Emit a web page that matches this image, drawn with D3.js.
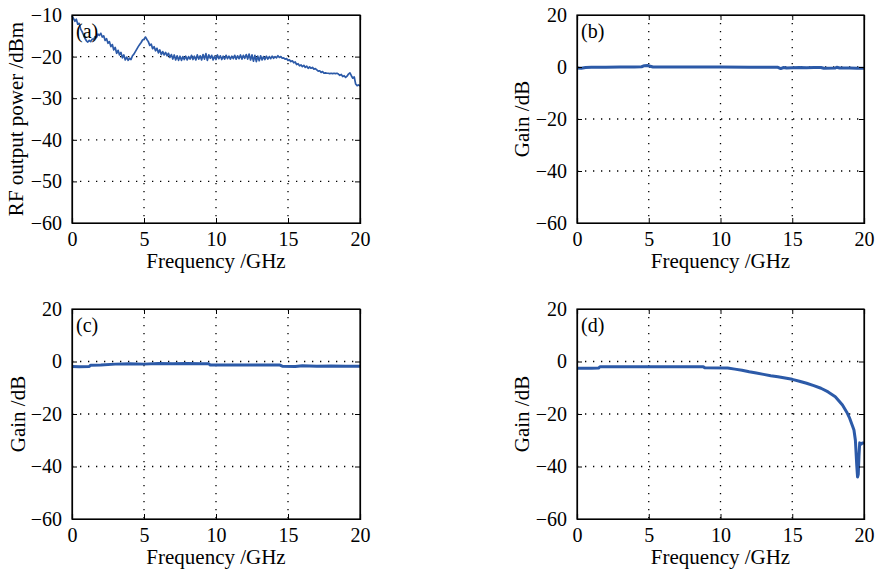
<!DOCTYPE html>
<html>
<head>
<meta charset="utf-8">
<script src="https://cdn.jsdelivr.net/npm/d3@7"></script>
<style>
  body { margin: 0; background: #fff; }
  text { font-family: "Liberation Serif", "DejaVu Serif", serif; fill: #000; }
</style>
</head>
<body>
<script>
// panel (a): RF output power vs frequency, [GHz, dBm]
var powerA = [
  [0.0,-10.2],[0.1,-10.8],[0.2,-11.5],[0.3,-11.0],[0.4,-12.2],[0.5,-12.0],[0.6,-13.4],[0.7,-14.0],[0.8,-14.8],[0.9,-15.6],
  [1.0,-16.2],[1.1,-16.5],[1.2,-16.1],[1.3,-16.4],[1.4,-15.8],[1.5,-15.9],[1.6,-15.2],[1.7,-15.4],[1.8,-14.6],[1.9,-14.9],
  [2.0,-14.4],[2.1,-15.3],[2.2,-15.0],[2.3,-16.1],[2.4,-15.7],[2.5,-16.8],[2.6,-16.4],[2.7,-17.6],[2.8,-17.1],[2.9,-18.4],
  [3.0,-17.8],[3.1,-19.2],[3.2,-18.5],[3.3,-19.6],[3.4,-19.0],[3.5,-20.3],[3.6,-19.6],[3.7,-20.8],[3.8,-20.1],[3.9,-20.9],
  [4.0,-20.4],[4.1,-20.7],[4.2,-19.8],[4.3,-19.4],[4.4,-18.8],[4.5,-18.2],[4.6,-17.6],[4.7,-17.1],[4.8,-16.6],[4.9,-16.0],
  [5.0,-15.8],[5.1,-15.3],[5.2,-15.9],[5.3,-16.4],[5.4,-17.3],[5.5,-17.0],[5.6,-18.1],[5.7,-17.6],[5.8,-18.6],[5.9,-18.0],
  [6.0,-19.1],[6.1,-18.4],[6.2,-19.5],[6.3,-18.8],[6.4,-19.6],[6.5,-19.0],[6.6,-19.8],[6.7,-19.2],[6.8,-20.2],[6.9,-19.5],
  [7.0,-20.6],[7.1,-19.6],[7.2,-20.8],[7.3,-19.8],[7.4,-20.9],[7.5,-19.9],[7.6,-20.9],[7.7,-20.0],[7.8,-20.7],[7.9,-19.9],
  [8.0,-20.8],[8.1,-20.0],[8.2,-20.6],[8.3,-19.7],[8.4,-20.7],[8.5,-19.9],[8.6,-20.8],[8.7,-19.6],[8.8,-20.6],[8.9,-19.8],
  [9.0,-20.8],[9.1,-19.5],[9.2,-20.6],[9.3,-19.3],[9.4,-20.9],[9.5,-19.6],[9.6,-20.4],[9.7,-19.7],[9.8,-20.8],[9.9,-19.9],
  [10.0,-20.7],[10.1,-19.6],[10.2,-20.5],[10.3,-19.8],[10.4,-20.7],[10.5,-19.9],[10.6,-20.6],[10.7,-19.7],[10.8,-20.5],[10.9,-19.9],
  [11.0,-20.6],[11.1,-19.9],[11.2,-20.5],[11.3,-19.7],[11.4,-20.6],[11.5,-19.8],[11.6,-20.5],[11.7,-19.6],[11.8,-20.6],[11.9,-19.7],
  [12.0,-20.4],[12.1,-19.5],[12.2,-20.6],[12.3,-19.4],[12.4,-20.8],[12.5,-19.6],[12.6,-21.1],[12.7,-19.7],[12.8,-21.2],[12.9,-19.9],
  [13.0,-21.0],[13.1,-19.8],[13.2,-20.8],[13.3,-20.0],[13.4,-20.7],[13.5,-19.9],[13.6,-20.6],[13.7,-20.0],[13.8,-20.5],[13.9,-19.9],
  [14.0,-20.4],[14.1,-20.0],[14.2,-20.3],[14.3,-19.8],[14.4,-20.2],[14.5,-20.0],[14.6,-20.4],[14.7,-20.3],[14.8,-20.6],[14.9,-20.5],
  [15.0,-20.9],[15.1,-20.8],[15.2,-21.2],[15.3,-21.0],[15.4,-21.5],[15.5,-21.3],[15.6,-21.9],[15.7,-21.7],[15.8,-22.2],[15.9,-22.0],
  [16.0,-22.4],[16.1,-22.1],[16.2,-22.6],[16.3,-22.3],[16.4,-22.8],[16.5,-22.5],[16.6,-22.8],[16.7,-22.6],[16.8,-23.0],[16.9,-22.9],
  [17.0,-23.2],[17.1,-23.5],[17.2,-23.4],[17.3,-23.8],[17.4,-23.6],[17.5,-24.0],[17.6,-23.9],[17.7,-24.0],[17.8,-24.0],[17.9,-24.1],
  [18.0,-24.0],[18.1,-24.1],[18.2,-24.0],[18.3,-24.1],[18.4,-24.0],[18.5,-24.2],[18.6,-24.5],[18.7,-24.3],[18.8,-24.8],[18.9,-24.6],
  [19.0,-25.0],[19.1,-24.7],[19.2,-24.2],[19.3,-23.9],[19.4,-24.6],[19.5,-25.2],[19.6,-24.9],[19.7,-26.6],[19.8,-27.0],[19.9,-26.8],
  [20.0,-27.1]
];

// panel (b): gain, [GHz, dB]
var gainB = [
  [0,-0.4],[0.3,-0.5],[0.6,-0.2],[1,-0.1],[2,-0.1],[3,0],[4,0],[4.5,0.1],[4.7,0.5],[4.9,0.6],[5.1,0.3],[5.3,0],
  [7,0],[10,0],[12,-0.05],[14,-0.1],[14.2,-0.6],[14.4,-0.2],[14.6,-0.4],[15,-0.3],[15.5,-0.2],[16,-0.3],[16.5,-0.2],
  [17,-0.2],[17.2,-0.5],[18,-0.4],[18.1,-0.1],[18.3,-0.4],[19,-0.4],[19.5,-0.5],[20,-0.5]
];

// panel (c)
var gainC = [
  [0,-1.9],[0.5,-2.0],[1.2,-1.9],[1.3,-1.4],[2,-1.3],[3,-1.0],[4,-0.9],[5,-1.0],[6,-0.8],[7,-0.9],[8,-0.8],
  [9,-0.9],[9.5,-0.9],[9.6,-1.3],[12,-1.3],[14.4,-1.3],[14.6,-1.8],[15.5,-1.9],[16,-1.6],[17,-1.8],[18,-1.7],
  [19,-1.8],[20,-1.8]
];

// panel (d)
var gainD = [
  [0,-2.6],[1,-2.6],[1.5,-2.5],[1.6,-2.0],[5,-2.0],[8.8,-2.0],[8.9,-2.4],[10.5,-2.5],[11,-2.9],[11.5,-3.3],
  [12,-3.9],[12.5,-4.4],[13,-4.9],[13.5,-5.4],[14,-5.8],[14.5,-6.3],[15,-6.8],[15.5,-7.5],[16,-8.3],[16.5,-9.2],
  [17,-10.2],[17.5,-11.6],[18,-13.4],[18.5,-16.6],[18.8,-19.3],[19,-21.6],[19.2,-24.6],[19.3,-26.1],[19.4,-30],
  [19.45,-35],[19.5,-40],[19.55,-44],[19.6,-43],[19.65,-36],[19.7,-31],[19.8,-31.5],[19.9,-31],[20,-31]
];

var xTicks = [0, 5, 10, 15, 20];
var yTicksA = [-10, -20, -30, -40, -50, -60];
var yTicksG = [20, 0, -20, -40, -60];

var panels = [
  {tag: "(a)", data: powerA, x0: 72, x1: 360, y0: 15, y1: 223, ydom: [-60, -10], yticks: yTicksA, ylab: "RF output power /dBm", ylabX: 16, lw: 1.7},
  {tag: "(b)", data: gainB, x0: 577, x1: 864, y0: 15, y1: 223, ydom: [-60, 20], yticks: yTicksG, ylab: "Gain /dB", ylabX: 522, lw: 3},
  {tag: "(c)", data: gainC, x0: 72, x1: 360, y0: 309, y1: 519, ydom: [-60, 20], yticks: yTicksG, ylab: "Gain /dB", ylabX: 18, lw: 3},
  {tag: "(d)", data: gainD, x0: 577, x1: 864, y0: 309, y1: 519, ydom: [-60, 20], yticks: yTicksG, ylab: "Gain /dB", ylabX: 522, lw: 3}
];

var svg = d3.select("body").append("svg")
  .attr("width", 879).attr("height", 575);

var fmt = function(d) { return d < 0 ? "\u2212" + Math.abs(d) : d; };

panels.forEach(function(p) {
  var x = d3.scaleLinear().domain([0, 20]).range([p.x0, p.x1]);
  var y = d3.scaleLinear().domain(p.ydom).range([p.y1, p.y0]);
  var g = svg.append("g");

  // dotted grid on inner ticks
  g.selectAll(".gx").data(xTicks.slice(1, -1)).enter().append("line")
    .attr("x1", function(d) { return x(d); }).attr("x2", function(d) { return x(d); })
    .attr("y1", p.y0).attr("y2", p.y1)
    .style("stroke", "#000").style("stroke-width", 1.3).style("stroke-dasharray", "1.3,6.7");
  g.selectAll(".gy").data(p.yticks.slice(1, -1)).enter().append("line")
    .attr("x1", p.x0).attr("x2", p.x1)
    .attr("y1", function(d) { return y(d); }).attr("y2", function(d) { return y(d); })
    .style("stroke", "#000").style("stroke-width", 1.3).style("stroke-dasharray", "1.3,6.7");

  // curve
  var line = d3.line().x(function(d) { return x(d[0]); }).y(function(d) { return y(d[1]); });
  g.append("path").datum(p.data).attr("d", line)
    .style("fill", "none").style("stroke", "#2c5aa8")
    .style("stroke-width", p.lw).style("stroke-linejoin", "round");

  // axes with inward ticks on all sides
  g.append("g").attr("transform", "translate(0," + p.y1 + ")")
    .call(d3.axisBottom(x).tickValues(xTicks).tickSize(-5).tickPadding(9).tickFormat(fmt));
  g.append("g").attr("transform", "translate(0," + p.y0 + ")")
    .call(d3.axisTop(x).tickValues(xTicks).tickSize(-5).tickFormat(""));
  g.append("g").attr("transform", "translate(" + p.x0 + ",0)")
    .call(d3.axisLeft(y).tickValues(p.yticks).tickSize(-5).tickPadding(10).tickFormat(fmt));
  g.append("g").attr("transform", "translate(" + p.x1 + ",0)")
    .call(d3.axisRight(y).tickValues(p.yticks).tickSize(-5).tickFormat(""));
  g.selectAll(".domain").style("stroke", "#000").style("stroke-width", 1.2);
  g.selectAll(".tick line").style("stroke", "#000");
  g.selectAll(".tick text").style("font-size", "20px").style("font-family", "Liberation Serif");

  // frame on top
  g.append("rect").attr("x", p.x0).attr("y", p.y0)
    .attr("width", p.x1 - p.x0).attr("height", p.y1 - p.y0)
    .style("fill", "none").style("stroke", "#000").style("stroke-width", 1.2);

  // labels
  g.append("text").attr("x", (p.x0 + p.x1) / 2).attr("y", p.y1 + 45)
    .attr("text-anchor", "middle").style("font-size", "21px").text("Frequency /GHz");
  g.append("text")
    .attr("transform", "translate(" + p.ylabX + "," + (p.y0 + p.y1) / 2 + ") rotate(-90)")
    .attr("text-anchor", "middle").attr("dy", "0.35em").style("font-size", "21px").text(p.ylab);
  g.append("text").attr("x", p.x0 + 4).attr("y", p.y0 + 23)
    .style("font-size", "20px").text(p.tag);
});
</script>
</body>
</html>
